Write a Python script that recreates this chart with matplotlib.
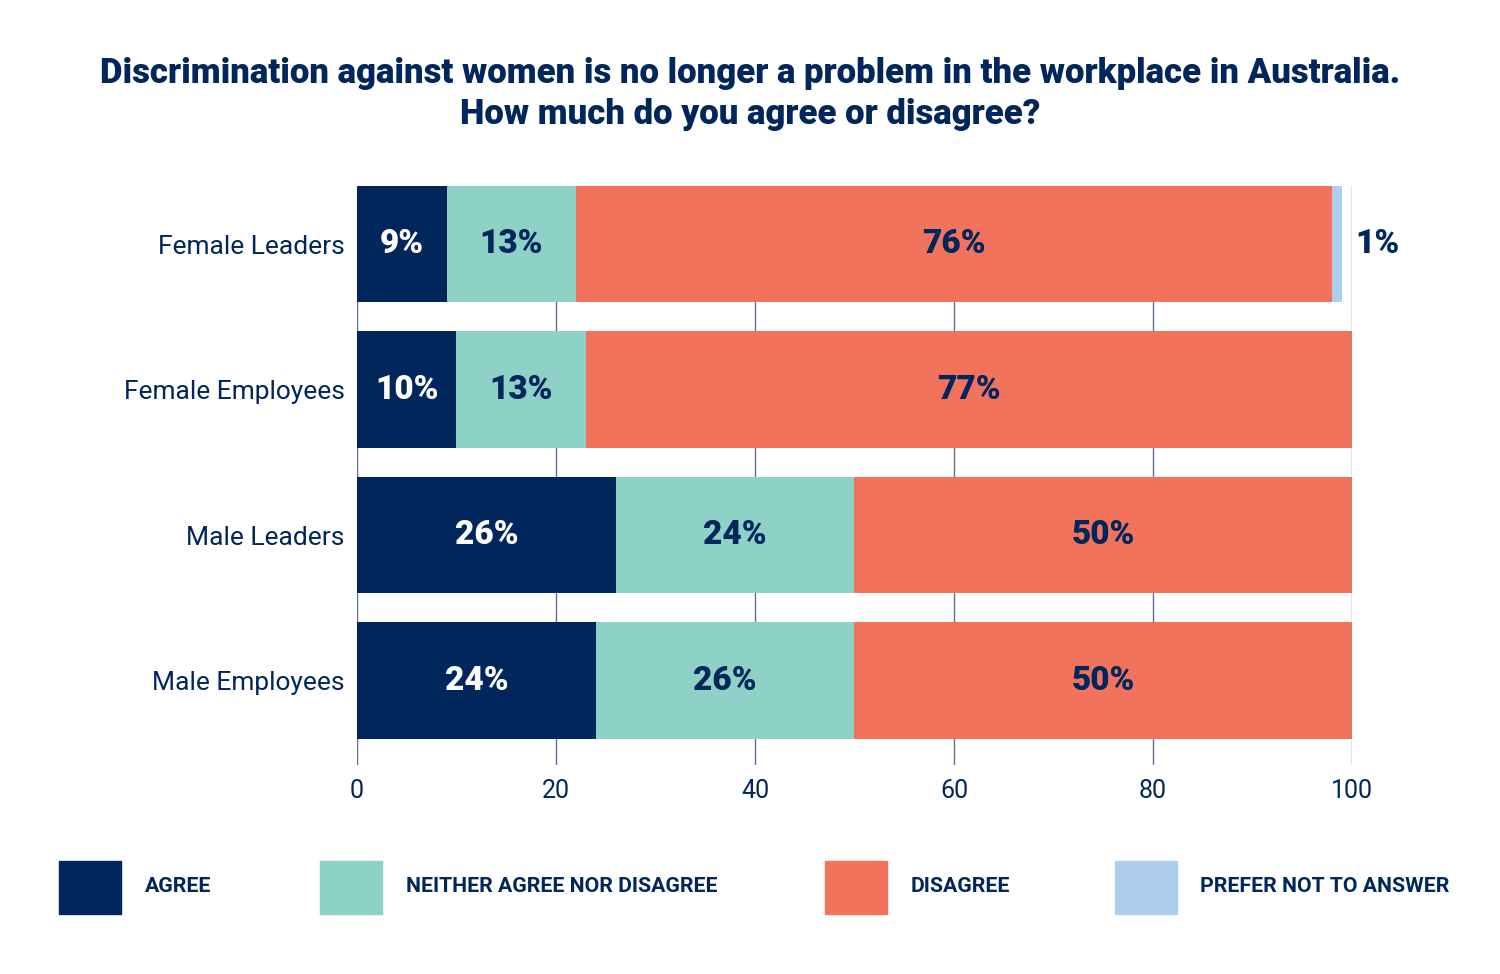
import matplotlib.pyplot as plt
from matplotlib.patches import Rectangle

# data
groups = ['Female Leaders', 'Female Employees', 'Male Leaders', 'Male Employees']
agree = [9, 10, 26, 24]
neither = [13, 13, 24, 26]
disagree = [76, 77, 50, 50]
prefer_not = [1, 0, 0, 0]
series_names = ['AGREE', 'NEITHER AGREE NOR DISAGREE', 'DISAGREE', 'PREFER NOT TO ANSWER']
xticks = [0, 20, 40, 60, 80, 100]

NAVY = '#00265c'
TEAL = '#8ed1c6'
CORAL = '#f1735b'
LIGHT = '#aecfec'
GRID = '#5d6e8e'

plt.rcParams['font.family'] = ['Roboto', 'DejaVu Sans']

fig = plt.figure(figsize=(15, 9.74), dpi=100)
ax = fig.add_axes([0.238, 0.2146, 0.9013 - 0.238, 0.809 - 0.2146])

y = list(range(len(groups)))
colors = [NAVY, TEAL, CORAL, LIGHT]
txt_colors = ['white', NAVY, NAVY, NAVY]
left = [0] * len(groups)
for vals, col, tc in zip([agree, neither, disagree, prefer_not], colors, txt_colors):
    bars = ax.barh(y, vals, left=left, height=0.8, color=col, zorder=3)
    if col != LIGHT:
        for b, v in zip(bars, vals):
            ax.text(b.get_x() + b.get_width() / 2, b.get_y() + b.get_height() / 2,
                    f'{v}%', ha='center', va='center', color=tc,
                    fontsize=24, fontweight='black', zorder=4)
    left = [l + v for l, v in zip(left, vals)]

# 1% label outside the first bar
ax.text(100.3, 0, f'{prefer_not[0]}%', ha='left', va='center', color=NAVY,
        fontsize=24, fontweight='black', clip_on=False)

ax.set_xlim(0, 100)
ax.set_ylim(3.58, -0.4)
ax.set_yticks(y)
ax.set_yticklabels(groups, fontsize=19, color=NAVY)
ax.set_xticks(xticks)
ax.set_xticklabels([str(t) for t in xticks], fontsize=18, color=NAVY)
ax.tick_params(axis='y', length=0, pad=9)
ax.tick_params(axis='x', length=0, pad=10)
for s in ax.spines.values():
    s.set_visible(False)
ax.grid(axis='x', color=GRID, linewidth=1, zorder=0)
ax.set_axisbelow(True)

fig.text(0.5, 0.925, 'Discrimination against women is no longer a problem in the workplace in Australia.',
         ha='center', va='center', color=NAVY, fontsize=25, fontweight='black')
fig.text(0.5, 0.882, 'How much do you agree or disagree?',
         ha='center', va='center', color=NAVY, fontsize=25, fontweight='black')

# legend
sq_x = [59, 320, 825, 1115]
tx_x = [145, 406, 911, 1200]
for sx, tx, col, name in zip(sq_x, tx_x, colors, series_names):
    fig.add_artist(Rectangle((sx / 1500, 1 - 914 / 974), 62 / 1500, 53 / 974,
                             transform=fig.transFigure, color=col))
    fig.text(tx / 1500, 1 - 887 / 974, name, ha='left', va='center',
             color=NAVY, fontsize=15.3, fontweight='bold')

fig.savefig('out.png', dpi=100)
